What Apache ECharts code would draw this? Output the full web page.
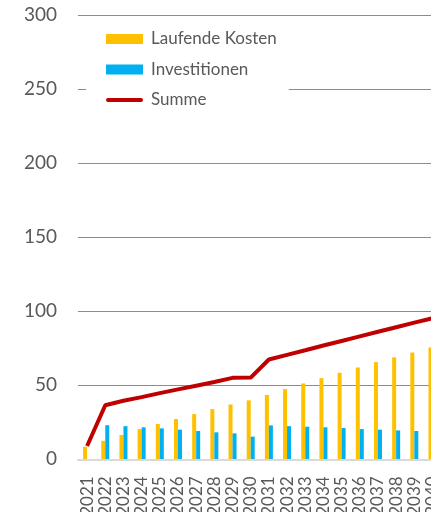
<!DOCTYPE html>
<html>
<head>
<meta charset="utf-8">
<script src="https://cdn.jsdelivr.net/npm/echarts@6/dist/echarts.min.js"></script>
<style>html,body{margin:0;padding:0;background:#fff;}#c{width:431px;height:512px;}</style>
</head>
<body>
<div id="c"></div>
<script>
const categories = ['2021','2022','2023','2024','2025','2026','2027','2028','2029','2030','2031','2032','2033','2034','2035','2036','2037','2038','2039','2040'];
const laufendeKosten = [8.5, 12.5, 16.4, 20.4, 23.8, 27.2, 30.5, 33.9, 37, 39.8, 43.4, 47.4, 51.2, 54.8, 58.4, 62, 65.6, 68.8, 72.1, 75.5];
const investitionen = [0, 23, 22.4, 21.6, 20.9, 20, 19.1, 18.2, 17.5, 15.3, 22.9, 22.4, 22, 21.6, 21.1, 20.4, 20, 19.5, 19.1, 18.8];
const summe = [9, 36.5, 39.5, 42, 44.7, 47.2, 49.7, 52.2, 55, 55.2, 67.4, 70.5, 73.6, 76.8, 79.9, 83, 86.1, 89.2, 92.3, 95.2];
const yTicks = {min: 0, max: 300, interval: 50};

const font = 'Lato, "Noto Sans", sans-serif';
const chart = echarts.init(document.getElementById('c'), null, {renderer: 'canvas'});
chart.setOption({
  animation: false,
  backgroundColor: '#ffffff',
  textStyle: {fontFamily: font},
  grid: {left: 78, top: 15, width: 363.6, height: 444.3, containLabel: false, outerBoundsMode: 'none'},
  legend: {
    orient: 'vertical',
    left: 86, top: 19,
    padding: [10, 12, 10, 20],
    backgroundColor: '#ffffff',
    itemWidth: 37, itemHeight: 10,
    itemGap: 10.5,
    textStyle: {fontFamily: font, fontSize: 17, color: '#595959', lineHeight: 20, padding: [0,0,0,3]},
    data: [
      {name: 'Laufende Kosten', icon: 'rect'},
      {name: 'Investitionen', icon: 'rect'},
      {name: 'Summe', icon: 'path://M2,0 L35,0 A2,2 0 0 1 35,4 L2,4 A2,2 0 0 1 2,0 Z', itemStyle: {color: '#C00000'}}
    ]
  },
  xAxis: {
    type: 'category',
    data: categories,
    z: 3,
    axisLine: {lineStyle: {color: '#D9D9D9', width: 2}},
    axisTick: {show: false},
    axisLabel: {interval: 0, rotate: 90, margin: 17, fontFamily: font, fontSize: 17, color: '#595959', hideOverlap: false}
  },
  yAxis: {
    type: 'value',
    min: yTicks.min, max: yTicks.max, interval: yTicks.interval,
    axisLine: {show: false},
    axisTick: {show: false},
    axisLabel: {margin: 21, fontFamily: font, fontSize: 19, color: '#595959'},
    splitLine: {lineStyle: {color: '#8C8C8C', width: 1}}
  },
  series: [
    {name: 'Laufende Kosten', type: 'bar', data: laufendeKosten, barWidth: 4, barGap: '0%', itemStyle: {color: '#FFC000'}},
    {name: 'Investitionen', type: 'bar', data: investitionen, barWidth: 4, barGap: '0%', itemStyle: {color: '#00B0F0'}},
    {name: 'Summe', type: 'line', data: summe, symbol: 'none', z: 5, lineStyle: {color: '#C00000', width: 4}, itemStyle: {color: '#C00000'}}
  ]
});
</script>
</body>
</html>
